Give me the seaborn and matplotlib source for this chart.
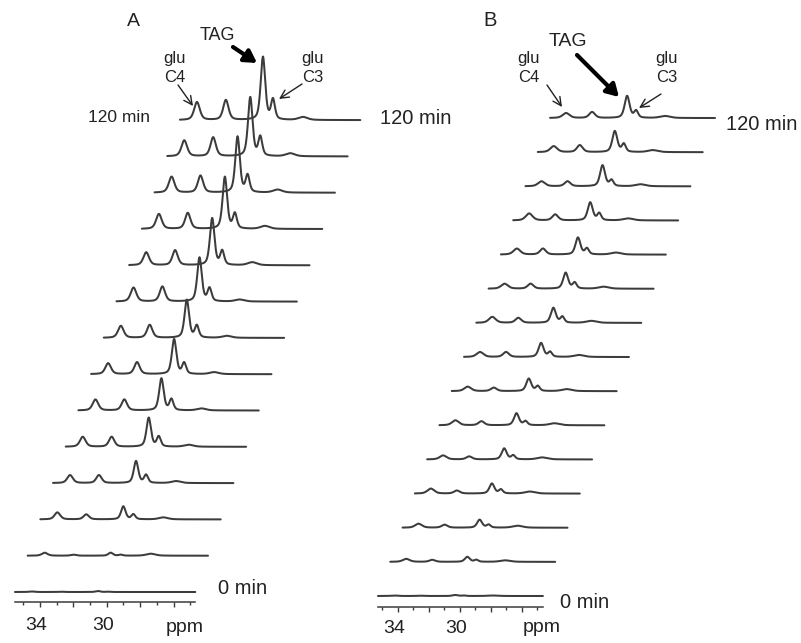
import numpy as np
import pandas as pd
import matplotlib
matplotlib.use('Agg')
import matplotlib.pyplot as plt
import seaborn as sns
from matplotlib.transforms import ScaledTranslation

sns.set_theme(style='white')
plt.rcParams['font.family'] = ['Liberation Sans', 'DejaVu Sans']

LINE = '#3c3c3c'
H = 643  # figure height in px, used for pixel annotations

# peak positions (ppm, frame of the 0 min trace): glu C4, 2nd peak, TAG, glu C3, small bump
peaks_a = [34.48, 32.75, 30.53, 29.93, 28.13]
widths_a = [0.2, 0.19, 0.16, 0.14, 0.32]
# peak heights per trace, 0 min (first) to 120 min (last)
c4_a = [0.5, 3, 7, 8, 10, 11, 11, 12, 14, 13, 15, 16, 16, 18]
p2_a = [0.3, 1, 5, 8, 10, 11, 12, 13, 15, 15, 16, 17, 19, 20]
tag_a = [1, 3, 13, 22, 29, 32, 35, 38, 44, 47, 52, 56, 59, 63]
c3_a = [0.3, 1, 5, 8, 10, 11, 11, 12, 13, 14, 15, 17, 19, 20]
bump_a = [0, 2, 2, 2, 2, 2, 2, 2, 2, 3, 3, 3, 3, 3]

peaks_b = [34.26, 32.58, 30.32, 29.74, 27.87]
widths_b = [0.26, 0.22, 0.19, 0.15, 0.38]
c4_b = [0.5, 3, 4, 5, 4, 5, 4.5, 5, 6, 5, 6, 7, 5, 6, 5]
p2_b = [0.3, 2, 3, 3, 3, 4, 3.5, 5, 5, 5, 6, 6, 5, 7, 6]
tag_b = [1, 5, 8, 10, 11, 12, 12.5, 14, 15, 16, 17, 18, 21, 21, 22]
c3_b = [0.5, 2, 3, 4, 4, 4, 5, 5, 6, 6, 6, 7, 6, 8, 7]
bump_b = [0.5, 1.5, 2, 2, 2, 2, 2, 2, 2, 2, 2, 2, 2, 2, 2]

tick_major = [34, 32, 30, 28, 26]
tick_minor = [35, 33, 31, 29, 27, 25]
tick_labels = ['34', '', '30', '', '']


def shape(x, x0, hw):
    lor = 1 / (1 + ((x - x0) / hw) ** 2)
    gau = np.exp(-np.log(2) * ((x - x0) / hw) ** 2)
    return 0.5 * lor + 0.5 * gau


def build(peaks, widths, heights, span, shift, step):
    rows = []
    grid = np.linspace(span[0], span[1], 700)
    for k in range(len(heights[0])):
        sig = np.zeros_like(grid)
        for p, w, h in zip(peaks, widths, heights):
            sig += h[k] * shape(grid, p, w)
        rows.append(pd.DataFrame({'x': grid - k * shift,
                                  'y': k * step + sig,
                                  'trace': k}))
    return pd.concat(rows, ignore_index=True)


df_a = build(peaks_a, widths_a, [c4_a, p2_a, tag_a, c3_a, bump_a],
             (35.5, 24.7), 0.76, 36.3)
df_b = build(peaks_b, widths_b, [c4_b, p2_b, tag_b, c3_b, bump_b],
             (35.29, 24.65), 0.793, 34.14)

fig = plt.figure(figsize=(8.01, 6.43), dpi=100)
ax_a = fig.add_axes([0, 0, 400 / 801, 1])
ax_b = fig.add_axes([360 / 801, 0, 441 / 801, 1])

setup = [(ax_a, df_a, (36.395, 12.443), (-51, 592), -10, (35.5, 24.7), 7),
         (ax_b, df_b, (36.45, 8.0), (-47, 596), -11, (35.29, 24.65), 5.5)]

for ax, df, xl, yl, axis_y, bounds, pad in setup:
    ax.set_facecolor('none')
    sns.lineplot(data=df, x='x', y='y', units='trace', estimator=None,
                 sort=False, color=LINE, lw=1.45, ax=ax)
    ax.set_xlim(*xl)
    ax.set_ylim(*yl)
    for s in ['top', 'left', 'right']:
        ax.spines[s].set_visible(False)
    ax.spines['bottom'].set_position(('data', axis_y))
    ax.spines['bottom'].set_bounds(*bounds)
    ax.spines['bottom'].set_color(LINE)
    ax.spines['bottom'].set_linewidth(1.1)
    ax.set_yticks([])
    ax.set_xticks(tick_major)
    ax.set_xticklabels(tick_labels)
    ax.set_xticks(tick_minor, minor=True)
    ax.tick_params(axis='x', which='major', direction='out', length=3.6,
                   width=1, color=LINE, pad=pad, labelsize=14, labelcolor='#222222',
                   bottom=True)
    ax.tick_params(axis='x', which='minor', direction='out', length=1.8,
                   width=1, color=LINE, bottom=True)
    for lbl in ax.get_xticklabels():
        lbl.set_transform(lbl.get_transform() +
                          ScaledTranslation(-4 / 100, 0, fig.dpi_scale_trans))
    ax.set_xlabel('')
    ax.set_ylabel('')


def label(ax, s, px, py, size, **kw):
    ax.annotate(s, xy=(px, H - py), xycoords='figure pixels', ha='center',
                va='center', fontsize=size, color='#222222', **kw)


def arrow(ax, tail, head, thick=False):
    if thick:
        props = dict(arrowstyle='-|>,head_length=0.6,head_width=0.35',
                     lw=3, color='black', shrinkA=0, shrinkB=0)
    else:
        props = dict(arrowstyle='->,head_length=0.5,head_width=0.25',
                     lw=1, color='#222222', shrinkA=0, shrinkB=0)
    ax.annotate('', xy=(head[0], H - head[1]), xytext=(tail[0], H - tail[1]),
                xycoords='figure pixels', textcoords='figure pixels',
                arrowprops=props)


# panel A texts
label(ax_a, 'A', 133, 21, 14)
label(ax_a, 'TAG', 217, 35, 13)
label(ax_a, 'glu\nC4', 175, 68, 12, linespacing=1.3)
label(ax_a, 'glu\nC3', 313, 68, 12, linespacing=1.3)
label(ax_a, '120 min', 119, 118, 12.5)
label(ax_a, '120 min', 416, 118, 14.5)
label(ax_a, '0 min', 243, 589, 14.5)
label(ax_a, 'ppm', 185, 627, 14)
arrow(ax_a, (233, 47), (257, 63), thick=True)
arrow(ax_a, (178, 85), (193, 106))
arrow(ax_a, (302, 84), (279, 99))

# panel B texts
label(ax_b, 'B', 490, 21, 14.5)
label(ax_b, 'TAG', 568, 41, 14)
label(ax_b, 'glu\nC4', 529, 68, 12, linespacing=1.3)
label(ax_b, 'glu\nC3', 667, 68, 12, linespacing=1.3)
label(ax_b, '120 min', 762, 125, 14.5)
label(ax_b, '0 min', 585, 602, 14.5)
label(ax_b, 'ppm', 542, 628, 14)
arrow(ax_b, (577, 55), (619, 97), thick=True)
arrow(ax_b, (547, 85), (562, 107))
arrow(ax_b, (661, 94), (639, 108))

fig.savefig('out.png', dpi=100)
